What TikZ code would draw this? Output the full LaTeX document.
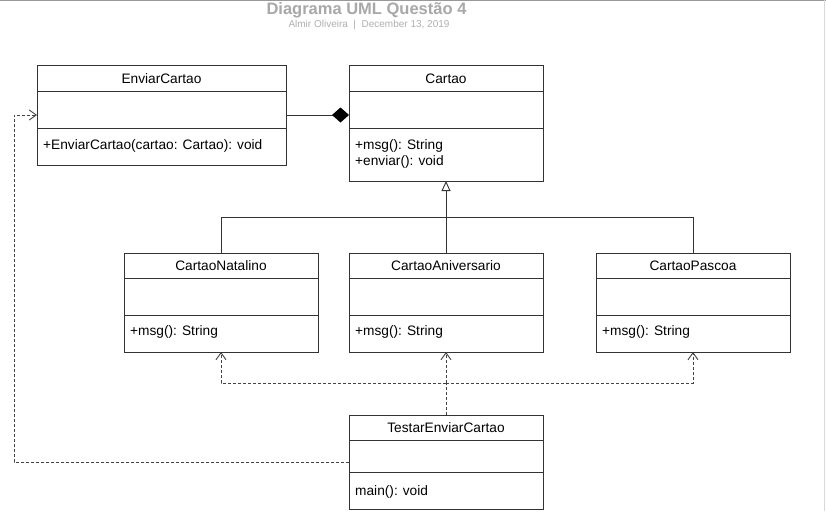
\documentclass[tikz,border=0pt]{standalone}
\usepackage{fontspec}
\setmainfont{Liberation Sans}
\usetikzlibrary{arrows.meta,calc}
\definecolor{titlegray}{HTML}{A8A8A8}
\definecolor{subgray}{HTML}{B0B0B0}
\definecolor{linegray}{HTML}{333333}
\definecolor{dashgray}{HTML}{444444}
\newcommand\fs{\fontsize{13.7pt}{16pt}\selectfont}
\newcommand\umlclass[8]{%
  \node[clsbox,anchor=north west,minimum width=#4pt,minimum height=#5pt] (#1) at (#2,#3) {};
  \draw[clsline] ([yshift=-#6pt]#1.north west) -- ([yshift=-#6pt]#1.north east);
  \draw[clsline] ([yshift=-#7pt]#1.north west) -- ([yshift=-#7pt]#1.north east);
  \node[txt] (#1-title) at ($(#1.north)+(0,#6/2+0.5)$) {#8};
}
\tikzset{
  clsbox/.style={draw=linegray,line width=0.9pt,rectangle,inner sep=0pt,outer sep=0pt,fill=white},
  clsline/.style={draw=linegray,line width=0.9pt},
  txt/.style={font=\fs,inner sep=0pt,text=black},
  meth/.style={font=\fs,inner sep=0pt,anchor=west,text=black},
  dep/.style={draw=dashgray,line width=0.9pt,dash pattern=on 3pt off 2pt},
  deparrow/.style={-{Straight Barb[length=7pt,width=10pt,line width=0.9pt]}},
}
\begin{document}
\begin{tikzpicture}[x=1pt,y=-1pt]
\useasboundingbox (0,0) rectangle (826,511);
\fill[white] (0,0) rectangle (826,511);
\draw[gray!80,line width=1.2pt] (0,0.6) -- (826,0.6);
\draw[gray!30,line width=1.2pt] (824.8,0) -- (824.8,511);
% title
\node[font=\fontsize{16.5pt}{18pt}\selectfont\bfseries,text=titlegray,inner sep=0pt] (title) at (366.5,10) {Diagrama UML Questão 4};
\node[font=\fontsize{10pt}{12pt}\selectfont,text=subgray,inner sep=0pt] (sub) at (369,24.5) {Almir Oliveira\ \ |\ \ December 13, 2019};
% classes
\umlclass{env}{37}{65}{249}{100}{26}{63}{EnviarCartao}
\node[meth] (env-m1) at ($(env.north west)+(6,80.5)$) {+EnviarCartao(cartao: Cartao): void};
\umlclass{cart}{349}{65}{194}{116}{26}{63}{Cartao}
\node[meth] (cart-m1) at ($(cart.north west)+(6,80.5)$) {+msg(): String};
\node[meth] (cart-m2) at ($(cart.north west)+(6,97)$) {+enviar(): void};
\umlclass{nat}{124}{253}{194}{99}{25}{62}{CartaoNatalino}
\node[meth] (nat-m1) at ($(nat.north west)+(6,79)$) {+msg(): String};
\umlclass{ani}{349}{253}{194}{99}{25}{62}{CartaoAniversario}
\node[meth] (ani-m1) at ($(ani.north west)+(6,79)$) {+msg(): String};
\umlclass{pas}{596}{253}{194}{99}{25}{62}{CartaoPascoa}
\node[meth] (pas-m1) at ($(pas.north west)+(6,79)$) {+msg(): String};
\umlclass{tes}{349}{415}{194}{94}{25}{57}{TestarEnviarCartao}
\node[meth] (tes-m1) at ($(tes.north west)+(6,76.5)$) {main(): void};
% composition
\draw[clsline,-{Diamond[length=17pt,width=15pt,fill=black,color=black]}] (env.east) -- (cart.west |- env.east);
% generalization
\draw[clsline,-{Triangle[open,length=10pt,width=9pt,line width=0.9pt]}] (ani.north) -- (cart.south);
\draw[clsline] (nat.north) -- ++(0,-36) -| (pas.north);
% dependencies
\draw[dep] (tes.north) -- ++(0,-32) coordinate (j);
\draw[dep,deparrow] (j) -- (ani.south);
\draw[dep,deparrow] (j) -| (nat.south);
\draw[dep,deparrow] (j) -| (pas.south);
\draw[dep,deparrow] (tes.west) -- ++(-335,0) |- (env.west);
\end{tikzpicture}
\end{document}
